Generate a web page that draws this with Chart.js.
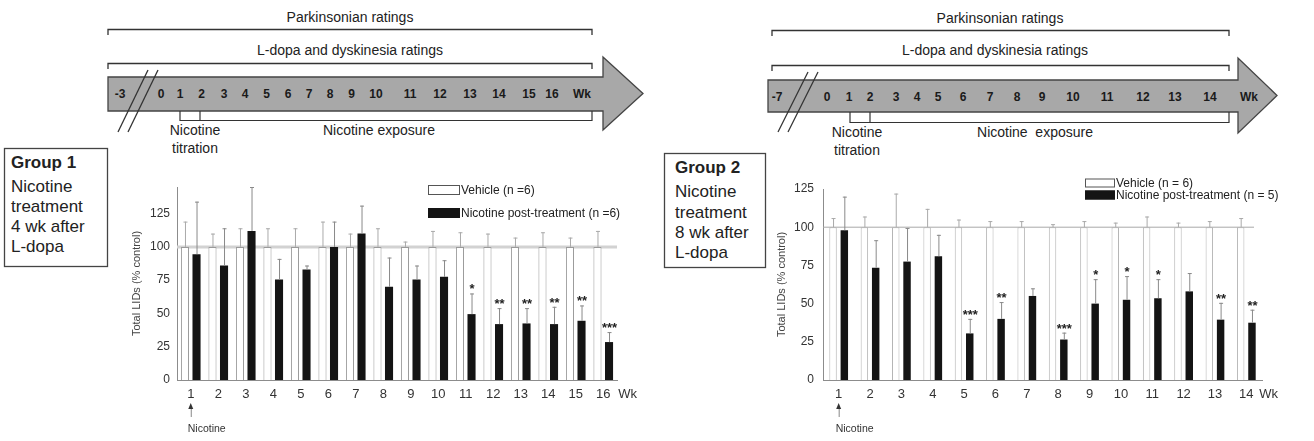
<!DOCTYPE html>
<html>
<head>
<meta charset="utf-8">
<script src="https://cdn.jsdelivr.net/npm/chart.js@4/dist/chart.umd.min.js"></script>
<style>
html, body { margin: 0; padding: 0; background: #fff; }
#fig { position: relative; width: 1314px; height: 441px; overflow: hidden; font-family: "Liberation Sans", Arial, sans-serif; }
#diagram { position: absolute; left: 0; top: 0; }
canvas { position: absolute; }
#c1 { left: 130px; top: 170px; }
#c2 { left: 775px; top: 172px; }
</style>
</head>
<body>
<div id="fig">
<svg id="diagram" width="1314" height="441" font-family="Liberation Sans, Arial, sans-serif" fill="#222">
  <!-- group 1 timeline -->
  <text x="350" y="22" font-size="14" text-anchor="middle">Parkinsonian ratings</text>
  <polyline points="108,35 108,29.5 592,29.5 592,35" fill="none" stroke="#333" stroke-width="1.3"/>
  <text x="350" y="55" font-size="14" text-anchor="middle">L-dopa and dyskinesia ratings</text>
  <polyline points="108,69 108,63.5 592,63.5 592,69" fill="none" stroke="#333" stroke-width="1.3"/>
  <polygon points="108,77 603,77 603,57 643,93.5 603,130 603,111 108,111" fill="#a8a8a8" stroke="#444" stroke-width="1.3"/>
  <line x1="118" y1="132" x2="148" y2="70" stroke="#333" stroke-width="1.3"/>
  <line x1="128" y1="132" x2="158" y2="70" stroke="#333" stroke-width="1.3"/>
  <g id="tl1" font-size="12" font-weight="bold" text-anchor="middle" fill="#1a1a1a"></g>
  <polyline points="180,111 180,120.5 592,120.5 592,111" fill="none" stroke="#333" stroke-width="1.2"/>
  <line x1="200" y1="111" x2="200" y2="120.5" stroke="#333" stroke-width="1.2"/>
  <text x="195" y="135" font-size="14" text-anchor="middle">Nicotine</text>
  <text x="195" y="153" font-size="14" text-anchor="middle">titration</text>
  <text x="379" y="135" font-size="14" text-anchor="middle">Nicotine exposure</text>
  <rect x="4.5" y="148.5" width="103" height="118" fill="none" stroke="#444" stroke-width="1.3"/>
  <g font-size="17">
    <text x="11" y="168" font-weight="bold">Group 1</text>
    <text x="11" y="192">Nicotine</text>
    <text x="11" y="212">treatment</text>
    <text x="11" y="232">4 wk after</text>
    <text x="11" y="252">L-dopa</text>
  </g>

  <!-- group 2 timeline -->
  <text x="1000" y="23" font-size="14" text-anchor="middle">Parkinsonian ratings</text>
  <polyline points="772,36 772,30.5 1229,30.5 1229,36" fill="none" stroke="#333" stroke-width="1.3"/>
  <text x="995" y="55" font-size="14" text-anchor="middle">L-dopa and dyskinesia ratings</text>
  <polyline points="772,71 772,65.5 1229,65.5 1229,71" fill="none" stroke="#333" stroke-width="1.3"/>
  <polygon points="768,80 1238,80 1238,58 1277,95.5 1238,133 1238,112 768,112" fill="#a8a8a8" stroke="#444" stroke-width="1.3"/>
  <line x1="778" y1="132" x2="808" y2="72" stroke="#333" stroke-width="1.3"/>
  <line x1="788" y1="132" x2="818" y2="72" stroke="#333" stroke-width="1.3"/>
  <g id="tl2" font-size="12" font-weight="bold" text-anchor="middle" fill="#1a1a1a"></g>
  <polyline points="850,112 850,122.5 1229,122.5 1229,112" fill="none" stroke="#333" stroke-width="1.2"/>
  <line x1="870" y1="112" x2="870" y2="122.5" stroke="#333" stroke-width="1.2"/>
  <text x="857" y="137" font-size="14" text-anchor="middle">Nicotine</text>
  <text x="857" y="155" font-size="14" text-anchor="middle">titration</text>
  <text x="1035" y="137" font-size="14" text-anchor="middle">Nicotine&#160; exposure</text>
  <rect x="664.5" y="153.5" width="101" height="114" fill="none" stroke="#444" stroke-width="1.3"/>
  <g font-size="17">
    <text x="675" y="173" font-weight="bold">Group 2</text>
    <text x="675" y="197">Nicotine</text>
    <text x="675" y="218">treatment</text>
    <text x="675" y="238">8 wk after</text>
    <text x="675" y="258">L-dopa</text>
  </g>
</svg>
<canvas id="c1" width="530" height="271"></canvas>
<canvas id="c2" width="539" height="269"></canvas>
</div>

<script>
// timeline week marks (text + x position in the arrow)
const tlWeeks1 = ['-3','0','1','2','3','4','5','6','7','8','9','10','11','12','13','14','15','16','Wk'];
const tlX1 = [120,161,180,201.5,224,245,266.5,288,309,330,351.5,376,410,440,470,499,529,552,582];
const tlWeeks2 = ['-7','0','1','2','3','4','5','6','7','8','9','10','11','12','13','14','Wk'];
const tlX2 = [777,827,849,870,896,917,938,963,990,1017,1042,1073,1107,1143,1175,1210,1249];

// Group 1 (16 wk)
const weeks1 = ['1','2','3','4','5','6','7','8','9','10','11','12','13','14','15','16'];
const vehicle1 = [100,100,100,100,100,100,100,100,100,100,100,100,100,100,100,100];
const vehicleSem1 = [19,10,14,14,14,19,10,14,4,12,11,10,7,11,7,12];
const nicotine1 = [94.5,86,112,75.5,83,100,110,70,75.5,77.5,49.5,42,42.5,42,44.5,28.5];
const nicotineSem1 = [39.5,28,33,15.5,3,19,21,22,10.5,12.5,15.5,12,11.5,13,11.5,7.5];
const stars1 = ['','','','','','','','','','','*','**','**','**','**','***'];

// Group 2 (14 wk)
const weeks2 = ['1','2','3','4','5','6','7','8','9','10','11','12','13','14'];
const vehicle2 = [100,100,100,100,100,100,100,100,100,100,100,100,100,100];
const vehicleSem2 = [6,7,22,12,5,4,4,2,4,3,7,3,4,6];
const nicotine2 = [98,73.5,77.5,81,30.5,40,55,26.5,50,52.5,53.5,58,39.5,37.5];
const nicotineSem2 = [22,18,22,14,9.5,11,5,4.5,16,15.5,12.5,12,11,8.5];
const stars2 = ['','','','','***','**','','***','*','*','*','','**','**'];

function addTimeline(id, labels, xs, y) {
  const g = document.getElementById(id);
  labels.forEach((t, i) => {
    const el = document.createElementNS('http://www.w3.org/2000/svg', 'text');
    el.setAttribute('x', xs[i]);
    el.setAttribute('y', y);
    el.textContent = t;
    g.appendChild(el);
  });
}
addTimeline('tl1', tlWeeks1, tlX1, 98);
addTimeline('tl2', tlWeeks2, tlX2, 100.5);

const FONT = '"Liberation Sans", Arial, sans-serif';

// reference line, error bars, stars, legend, "Wk" and the nicotine marker
const figurePlugin = {
  id: 'figure',
  beforeDatasetsDraw(chart, args, o) {
    const { ctx, chartArea: a, scales: { y } } = chart;
    const py = y.getPixelForValue(o.ref);
    ctx.save();
    ctx.strokeStyle = o.refColor;
    ctx.lineWidth = o.refWidth;
    ctx.beginPath();
    ctx.moveTo(a.left, py);
    ctx.lineTo(a.right - o.refInset, py);
    ctx.stroke();
    ctx.restore();
  },
  afterDatasetsDraw(chart, args, o) {
    const { ctx, chartArea: a, scales: { x, y } } = chart;
    ctx.save();
    chart.data.datasets.forEach((ds, di) => {
      chart.getDatasetMeta(di).data.forEach((bar, i) => {
        const top = y.getPixelForValue(ds.data[i] + ds.sem[i]);
        ctx.strokeStyle = ds.errColor;
        ctx.lineWidth = 1;
        ctx.beginPath();
        ctx.moveTo(bar.x + 0.5, bar.y);
        ctx.lineTo(bar.x + 0.5, top);
        ctx.moveTo(bar.x - 1.5, top + 0.5);
        ctx.lineTo(bar.x + 2.5, top + 0.5);
        ctx.stroke();
        if (ds.stars && ds.stars[i]) {
          ctx.fillStyle = '#222';
          ctx.font = 'bold 13px ' + FONT;
          ctx.textAlign = 'center';
          ctx.textBaseline = 'alphabetic';
          ctx.fillText(ds.stars[i], bar.x + 0.5, top + o.starDrop);
        }
      });
    });

    // legend
    ctx.font = o.legend.font + 'px ' + FONT;
    ctx.textAlign = 'left';
    ctx.textBaseline = 'middle';
    chart.data.datasets.forEach((ds, di) => {
      const cy = o.legend.y + di * o.legend.dy;
      ctx.fillStyle = ds.backgroundColor;
      ctx.fillRect(o.legend.x, cy - o.legend.h / 2, o.legend.w, o.legend.h);
      ctx.strokeStyle = di === 0 ? '#555' : ds.backgroundColor;
      ctx.lineWidth = 1;
      ctx.strokeRect(o.legend.x + 0.5, cy - o.legend.h / 2 + 0.5, o.legend.w - 1, o.legend.h - 1);
      ctx.fillStyle = '#222';
      ctx.fillText(ds.label, o.legend.x + o.legend.w + 1, cy + 0.5);
    });

    // "Wk" after the last week
    const last = chart.data.labels.length - 1;
    ctx.font = '13px ' + FONT;
    ctx.fillStyle = '#333';
    ctx.textAlign = 'left';
    ctx.textBaseline = 'middle';
    ctx.fillText('Wk', x.getPixelForValue(last) + o.wkGap, a.bottom + 14);

    // nicotine start marker under week 1
    const x0 = x.getPixelForValue(0);
    ctx.fillStyle = '#333';
    ctx.beginPath();
    ctx.moveTo(x0, a.bottom + 23);
    ctx.lineTo(x0 - 2.5, a.bottom + 29);
    ctx.lineTo(x0 + 2.5, a.bottom + 29);
    ctx.closePath();
    ctx.fill();
    ctx.strokeStyle = '#888';
    ctx.beginPath();
    ctx.moveTo(x0 + 0.5, a.bottom + 29);
    ctx.lineTo(x0 + 0.5, a.bottom + 37);
    ctx.stroke();
    ctx.font = '10.5px ' + FONT;
    ctx.fillStyle = '#333';
    ctx.textBaseline = 'alphabetic';
    ctx.fillText('Nicotine', x0 - 3, a.bottom + o.nicY);
    ctx.restore();
  }
};

function makeChart(id, cfg) {
  return new Chart(document.getElementById(id), {
    type: 'bar',
    data: {
      labels: cfg.weeks,
      datasets: [
        { label: cfg.vehLabel, data: cfg.vehicle, sem: cfg.vehicleSem, errColor: '#aaa',
          backgroundColor: '#ffffff', borderColor: cfg.vehBorder, borderWidth: 1 },
        { label: cfg.nicLabel, data: cfg.nicotine, sem: cfg.nicotineSem, stars: cfg.stars, errColor: '#8a8a8a',
          backgroundColor: '#141414', borderColor: '#141414', borderWidth: 0 }
      ]
    },
    options: {
      responsive: false,
      animation: false,
      devicePixelRatio: 1,
      categoryPercentage: cfg.catPct,
      barPercentage: cfg.barPct,
      layout: { padding: { top: cfg.padTop, right: cfg.padRight, left: 0, bottom: 0 } },
      plugins: {
        legend: { display: false },
        tooltip: { enabled: false },
        figure: {
          ref: 100, refColor: cfg.refColor, refWidth: cfg.refWidth, refInset: cfg.refInset,
          starDrop: 0, wkGap: cfg.wkGap, nicY: 52,
          legend: cfg.legend
        }
      },
      scales: {
        x: {
          grid: { display: false, drawTicks: false },
          border: { display: true, color: '#8c8c8c', width: 1 },
          ticks: { color: '#333', font: { family: FONT, size: 13 }, padding: 7, maxRotation: 0, autoSkip: false },
          afterFit: s => { s.height = 61; }
        },
        y: {
          min: 0, max: cfg.yMax,
          grid: { display: false, drawTicks: false },
          border: { display: true, color: '#8c8c8c', width: 1 },
          ticks: { stepSize: 25, color: '#333', font: { family: FONT, size: 12 }, padding: cfg.tickPad },
          afterBuildTicks: s => { s.ticks = s.ticks.filter(t => t.value % 25 === 0); },
          title: { display: true, text: 'Total LIDs (% control)', color: '#444',
                   font: { family: FONT, size: 11 }, padding: { top: 0, bottom: 0 } },
          afterFit: s => { s.width = cfg.yWidth; }
        }
      }
    },
    plugins: [figurePlugin]
  });
}

makeChart('c1', {
  weeks: weeks1, vehicle: vehicle1, vehicleSem: vehicleSem1,
  nicotine: nicotine1, nicotineSem: nicotineSem1, stars: stars1,
  vehLabel: 'Vehicle (n =6)', nicLabel: 'Nicotine post-treatment (n =6)',
  vehBorder: '#9a9a9a', catPct: 0.84, barPct: 0.7,
  padTop: 17, padRight: 43, yMax: 145, yWidth: 47, tickPad: 7,
  refColor: '#d2d2d2', refWidth: 3, refInset: 0, wkGap: 15,
  legend: { x: 298, y: 20, dy: 23, w: 32, h: 10, font: 12 }
});

makeChart('c2', {
  weeks: weeks2, vehicle: vehicle2, vehicleSem: vehicleSem2,
  nicotine: nicotine2, nicotineSem: nicotineSem2, stars: stars2,
  vehLabel: 'Vehicle (n = 6)', nicLabel: 'Nicotine post-treatment (n = 5)',
  vehBorder: '#b4b4b4', catPct: 0.72, barPct: 0.66,
  padTop: 17, padRight: 52, yMax: 125, yWidth: 48, tickPad: 9,
  refColor: '#a8a8a8', refWidth: 1, refInset: 8, wkGap: 13,
  legend: { x: 310, y: 11, dy: 12, w: 30, h: 9, font: 12 }
});
</script>
</body>
</html>
